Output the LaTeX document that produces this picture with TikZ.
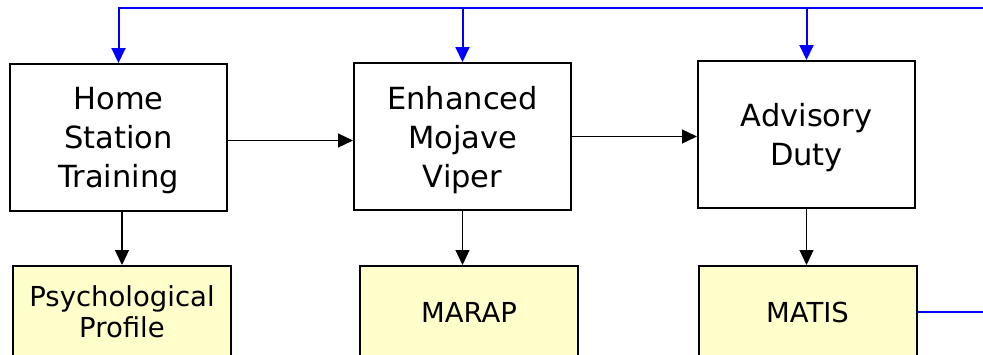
\documentclass[tikz,border=0pt]{standalone}
\usepackage{fontspec}
\setmainfont{DejaVu Sans}
\usetikzlibrary{arrows.meta}

\definecolor{notefill}{HTML}{FFFFCC}

\tikzset{
  stage/.style={draw, line width=2pt, align=center, inner sep=0pt,
    minimum width=217pt, minimum height=147pt, text depth=0pt,
    font=\fontsize{30.5}{39}\selectfont},
  measure/.style={draw, line width=2pt, fill=notefill, align=center, inner sep=0pt,
    minimum width=218pt, minimum height=92pt,
    font=\fontsize{27.5}{31}\selectfont},
  flow/.style={-{Triangle[length=15pt,width=14pt]}, line width=1.3pt},
  feedback/.style={flow, blue, line width=2pt}
}

\begin{document}
\begin{tikzpicture}[x=1pt, y=-1pt]
\useasboundingbox (0,0) rectangle (983,354);

% training stages
\node[stage] (hst) at (118.5,137.5) {Home\\Station\\Training};
\node[stage] (emv) at (462.5,136.5) {Enhanced\\Mojave\\Viper};
\node[stage] (ad) at (806.5,134.5) {Advisory\\Duty};

% what each stage produces
\node[measure] (psy) at (122,312) {Psychological\\Profile};
\node[measure] (marap) at (469,312) {MARAP};
\node[measure] (matis) at (807.5,312) {MATIS};

\coordinate (fbtop) at (983,8);
\coordinate (fbend) at (983,311);

\draw[flow] ([yshift=-3pt]hst.east) -- ([yshift=-3pt]hst.east -| emv.west);
\draw[flow] (emv.east) -- (emv.east -| ad.west);

\draw[flow] (psy.north |- hst.south) -- (psy.north);
\draw[flow] (emv.south) -- (emv.south |- marap.north);
\draw[flow] (ad.south) -- (ad.south |- matis.north);

% feedback loop
\draw[feedback] (fbtop) -| (hst);
\draw[feedback] (emv.north |- fbtop) -- (emv.north);
\draw[feedback] (ad.north |- fbtop) -- (ad.north);
\draw[blue, line width=2pt] (matis.east) -- (matis.east -| fbend);
\end{tikzpicture}
\end{document}
